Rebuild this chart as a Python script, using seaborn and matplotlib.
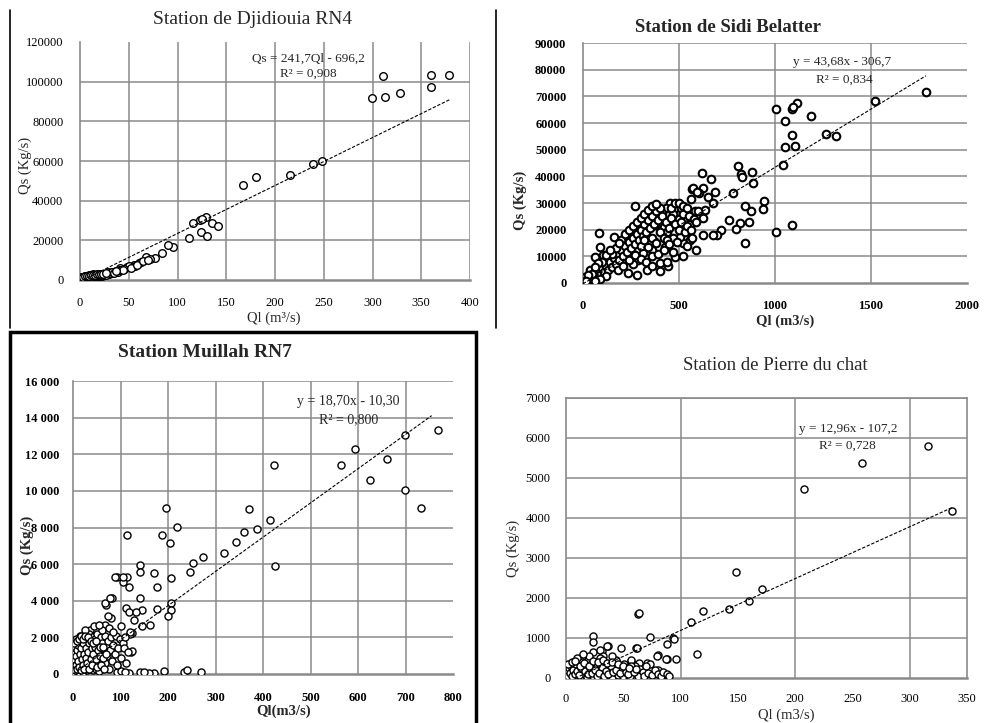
import numpy as np
import pandas as pd
import matplotlib
matplotlib.use("Agg")
import matplotlib.pyplot as plt
import seaborn as sns
from matplotlib.lines import Line2D
from matplotlib.patches import Rectangle

# ---------------- DATA ----------------
# Station de Djidiouia RN4
djid_ql = [311, 360, 378, 360, 299, 313, 328, 248, 239, 215, 181, 167,
           116, 123, 129, 125, 135, 142, 124, 130, 112, 95, 90, 84, 77, 68, 72, 61, 63,
           55, 56, 48, 50, 41, 45, 52, 58, 65, 70,
           0.5, 1, 1, 1.5, 2, 2, 3, 3, 4, 4, 5, 5, 6, 6, 7, 7, 8, 8, 9, 10, 10, 11, 12, 12,
           13, 14, 15, 15, 16, 17, 18, 18, 19, 20, 20, 21, 22, 23, 24, 25, 25, 26, 27, 28,
           29, 30, 31, 32, 33, 34, 35, 36, 37, 38, 39, 40, 42, 44,
           1, 2, 3, 4, 5, 6, 2, 3, 4, 6, 8, 9, 11, 13,
           0.3, 0.8, 1.2, 1.8, 2.2, 2.8, 3.3, 3.8, 4.5, 5.5, 6.5, 7.5, 8.5, 9.5, 10.5, 11.5, 12.5,
           13.5, 14.5, 15.5, 16.5, 17.5, 18.5, 19.5, 21.5, 23.5, 26.5, 28.5, 30.5, 32.5, 34.5, 36.5,
           1, 3, 5, 7, 9, 11, 13, 15, 17, 19, 22, 24, 27]
djid_qs = [103000, 103500, 103500, 97500, 92000, 92500, 94500, 60000, 58500, 53000, 52000, 48000,
           28500, 30000, 32000, 31000, 28500, 27000, 24000, 22000, 21000, 16500, 17500, 13500, 11000,
           11500, 10500, 8500, 9000, 7500, 7000, 6500, 7000, 6000, 5500, 6000, 7500, 9500, 10000,
           50, 100, 300, 200, 150, 500, 300, 700, 400, 900, 500, 1100, 600, 1200, 700, 1300, 800,
           1500, 1000, 900, 1700, 1200, 1100, 1900, 1400, 1500, 1300, 2100, 1700, 1900, 1600, 2300,
           2000, 1800, 2600, 2200, 2400, 2200, 2700, 2500, 3100, 2800, 3000, 3300, 3100, 3000, 3600,
           3300, 3800, 3500, 4200, 3800, 4300, 4500, 4200, 4800, 5000, 5200,
           600, 800, 1000, 1400, 1800, 2000, 1200, 1500, 1700, 1500, 2000, 2300, 2600, 3000,
           800, 600, 1000, 700, 1200, 900, 1100, 1400, 1000, 1300, 1600, 1100, 1800, 1300, 1500,
           2000, 1600, 1800, 2200, 1900, 2100, 2500, 2300, 2700, 2500, 2900, 2600, 3800, 3400, 4000,
           3600, 4600,
           1500, 1600, 1900, 1900, 2200, 2400, 2400, 2600, 2800, 3000, 3200, 3200, 3600]
djid_fit = (241.7, -696.2)
djid_fit_x = [2.9, 380]

# Station de Sidi Belatter
sidi_ql = [1786, 1521, 1266, 1318, 1187, 1115, 1089, 1095, 1005, 1052, 1089, 1052, 1104, 1042, 1089,
           1005, 943, 937, 880, 885, 875, 807, 823, 828, 781, 844, 818, 865, 797, 844, 760, 719, 698,
           677, 688, 667, 651, 677, 620, 625, 604, 568, 562, 625, 625, 589, 557, 271, 83, 161,
           573, 594, 453, 432, 479, 510, 583, 635, 557, 500, 470, 359, 411, 375, 323, 271, 250, 219,
           177, 130, 89, 104, 62, 78, 36, 10, 5, 167, 234, 281, 333, 401, 443, 479, 469, 521, 505,
           427, 359, 312, 286, 203, 260,
           20, 30, 40, 50, 60, 70, 80, 90, 100, 110, 120, 130, 140, 150, 160, 170, 180, 190, 200,
           210, 220, 230, 240, 250, 260, 270, 280, 290, 300, 310, 320, 330, 340, 350, 360, 370, 380,
           390, 400, 410, 420, 430, 440, 450, 460, 470, 480, 490, 500, 510, 520, 530, 540, 550, 460,
           480, 500, 520, 540, 300, 320, 340, 360, 380, 400, 420, 440, 200, 220, 240, 260, 280, 300,
           320, 340, 360, 380, 150, 170, 190, 120, 140, 100, 80, 60, 45, 25, 15, 180, 210, 240, 270,
           300, 330, 360, 390, 420, 450, 120, 90, 60, 400, 360, 440, 520, 540, 560, 580, 600, 590, 570]
sidi_qs = [71600, 68200, 55900, 55200, 62600, 67500, 65200, 66000, 65200, 60750, 55500, 51000, 51400,
           44250, 21750, 19100, 30750, 27750, 41600, 37500, 27000, 43900, 40900, 39700, 33750, 28900,
           22500, 22900, 20250, 15000, 23600, 19900, 18000, 18000, 34100, 38900, 32250, 30000, 41250,
           35600, 33750, 35250, 31500, 24400, 18000, 12400, 16100, 28900, 18750, 17250,
           35600, 34000, 30000, 28100, 28100, 28100, 27000, 27400, 22000, 24000, 26000, 24750, 26250,
           21750, 21000, 17250, 17250, 13500, 12375, 9750, 13500, 10500, 9750, 6000, 4900, 2250, 500,
           6000, 3750, 3000, 4875, 7500, 6375, 9750, 11625, 15000, 17250, 13500, 12375, 11250, 8625,
           8625, 7000,
           1500, 1000, 2500, 1800, 3500, 2500, 4500, 3000, 5500, 4000, 6500, 5000, 8000, 6000, 9500,
           7000, 11000, 8500, 12500, 10000, 14000, 11500, 15500, 13000, 17000, 14500, 18500, 16000,
           20000, 17500, 22000, 19000, 23500, 20500, 25000, 22000, 27000, 23500, 28000, 25000, 21000,
           23000, 19000, 20500, 24500, 17000, 22000, 15500, 20000, 23000, 26000, 19000, 21500, 25000,
           28000, 30000, 30000, 29000, 28000, 14000, 16000, 13500, 17000, 15000, 19000, 17000, 16000,
           16000, 18500, 20000, 21500, 23000, 24500, 26000, 27500, 29000, 29500, 11000, 13000, 15000,
           10500, 12500, 8000, 7500, 6000, 3500, 3000, 800, 5000, 6500, 8500, 10500, 9000, 8000,
           10000, 11000, 12500, 14500, 2500, 1500, 900, 4500, 6500, 8000, 10000, 14000, 20000, 24000,
           27000, 23000, 17000]
sidi_fit = (43.68, -306.7)
sidi_fit_x = [0, 1786]

# Station Muillah RN7
muil_ql = [768, 699, 594, 662, 564, 424, 626, 699, 733, 371, 195, 414, 387, 218, 360, 114, 188, 204,
           344, 317, 274, 253, 247, 426, 142, 142, 170, 92, 114, 206, 105, 117, 177, 82, 142, 70, 206,
           206, 177, 146, 112, 117, 133, 199, 163, 146, 128, 80, 36, 124, 120, 122, 67, 67, 78, 74,
           89, 106, 100, 121, 124,
           92, 117, 141, 170, 191, 233, 240, 270, 100, 110, 160, 150,
           2, 3, 5, 5, 7, 8, 10, 10, 12, 12, 14, 15, 16, 18, 18, 20, 20, 22, 24, 25, 26, 28, 30, 30,
           32, 33, 35, 36, 38, 40, 40, 42, 44, 45, 47, 48, 50, 50, 52, 54, 55, 57, 58, 60, 62, 63,
           65, 67, 68, 70, 72, 74, 75, 78, 80, 82, 85, 88, 90, 92, 95, 98, 100, 105, 108, 110, 112,
           115, 8, 15, 25, 60, 45, 55, 75, 85,
           1, 2, 3, 4, 4, 6, 6, 8, 9, 11, 11, 13, 14, 16, 17, 19, 21, 21, 23, 24, 27, 28, 29, 31, 34,
           34, 37, 39, 41, 43, 46, 49, 51, 53, 56, 59, 61, 64, 66, 69,
           3, 6, 9, 13, 17, 22, 26, 31, 37, 43, 49, 56, 63]
muil_qs = [13310, 13030, 12280, 11720, 11440, 11440, 10590, 10040, 9050, 8990, 9080, 8410, 7920,
           8010, 7740, 7590, 7590, 7140, 7230, 6630, 6410, 6050, 5590, 5920, 5960, 5590, 5500, 5320,
           5320, 5230, 5010, 4770, 4770, 4170, 4170, 3760, 3890, 3500, 3540, 3500, 3600, 3410, 3360,
           3140, 2690, 2600, 2960, 3050, 2410, 2230, 2200, 1180, 2690, 3860, 4140, 3140, 5320, 5320,
           2600, 2270, 1230,
           100, 80, 120, 60, 150, 90, 200, 100, 150, 100, 80, 100,
           100, 300, 50, 600, 200, 900, 400, 1200, 100, 700, 1500, 300, 1000, 500, 1800, 100, 1300,
           800, 2000, 300, 1500, 1000, 200, 1800, 600, 2200, 1200, 400, 1600, 900, 2000, 200, 1400,
           700, 1900, 300, 1100, 2200, 600, 1600, 150, 1300, 2000, 800, 1700, 400, 1200, 2100, 600,
           1500, 1000, 1800, 300, 1300, 2000, 700, 1600, 1100, 2100, 500, 1400, 1900, 900, 1700, 1400,
           2000, 600, 1200, 1700, 2100, 2400, 2400, 2600, 2700, 2500, 2300,
           400, 800, 1100, 200, 1500, 500, 1000, 1300, 250, 700, 1600, 400, 1100, 1400, 200, 800,
           500, 1700, 1100, 300, 900, 1400, 600, 1200, 300, 1700, 800, 1400, 500, 1100, 1500, 800,
           400, 1300, 1000, 500, 1400, 900, 300, 1100,
           1700, 1900, 1800, 1900, 2100, 1900, 2100, 2000, 1800, 1700, 1800, 1500, 1500]
muil_fit = (18.70, -10.30)
muil_fit_x = [0, 755]

# Station de Pierre du chat
pier_ql = [316, 258, 208, 337, 148, 171, 160, 142, 120, 109, 63, 93, 88, 73, 114, 96, 88, 80, 71, 61,
           48, 37, 24, 24, 31, 24, 57, 44, 6,
           36, 62, 94, 79, 87, 64, 30, 32, 16, 8, 57, 64, 73, 80, 89,
           1, 2, 3, 4, 5, 6, 7, 8, 9, 10, 11, 12, 13, 14, 15, 16, 17, 18, 19, 20, 21, 22, 23, 24, 25,
           26, 27, 28, 29, 30, 31, 32, 33, 34, 35, 36, 37, 38, 39, 40, 42, 43, 45, 46, 48, 50, 51, 53,
           55, 56, 58, 60, 62, 63, 65, 67, 68, 70, 72, 75, 78, 80, 83, 85, 88, 90, 10, 20, 15, 30, 40,
           0.5, 1.5, 2.5, 3.5, 4.5, 5.5, 6.5, 7.5, 8.5, 9.5, 11, 13, 15, 17, 19, 21, 23, 25, 27, 29,
           31, 33, 35, 37, 39, 41, 44, 47, 49, 52, 54, 57, 59, 61,
           2, 5, 8, 12, 16, 20, 24, 28, 32, 36, 40, 45, 50, 55]
pier_qs = [5790, 5375, 4725, 4180, 2650, 2230, 1930, 1730, 1670, 1400, 1610, 1000, 850, 1030, 600, 475,
           475, 580, 375, 760, 750, 810, 1040, 890, 665, 650, 415, 450, 375,
           810, 750, 975, 540, 475, 1625, 710, 555, 525, 410, 455, 375, 360, 210, 60,
           20, 100, 50, 200, 10, 150, 300, 80, 250, 30, 350, 150, 60, 400, 200, 100, 300, 30, 450, 180,
           90, 350, 250, 50, 400, 150, 300, 80, 200, 350, 40, 250, 150, 300, 60, 200, 350, 100, 250,
           30, 300, 150, 80, 250, 200, 50, 350, 120, 250, 60, 180, 300, 100, 40, 220, 150, 60, 300,
           120, 80, 200, 100, 40, 150, 100, 50, 500, 550, 600, 500, 550,
           150, 60, 250, 120, 300, 50, 200, 100, 350, 180, 80, 250, 320, 180, 90, 260, 130, 210, 40,
           120, 280, 60, 180, 100, 300, 150, 200, 120, 280, 160, 100, 300, 140, 220,
           350, 400, 420, 300, 380, 300, 420, 400, 450, 380, 400, 350, 300, 250]
pier_fit = (12.96, -107.2)
pier_fit_x = [8, 337]

# ---------------- STYLE ----------------
sns.set_theme(style="white")
plt.rcParams['font.family'] = ['Liberation Serif', 'DejaVu Serif']
plt.rcParams['mathtext.fontset'] = 'stix'

W, H = 986, 723
fig = plt.figure(figsize=(W / 100, H / 100), dpi=100)
GRID = '#8a8a8a'


def ax_rect(l, r, t, b):
    return [l / W, 1 - b / H, (r - l) / W, (b - t) / H]


def panel(rect, ql, qs, fit, fit_x, xlim, ylim, xticks, yticks, xgrid, ygrid,
          ylabels, tick_bold, s, lw, xpad, ypad, frame):
    ax = fig.add_axes(rect)
    df = pd.DataFrame({'Ql': ql, 'Qs': qs})
    sns.scatterplot(data=df, x='Ql', y='Qs', ax=ax, marker='o', s=s, facecolor='white',
                    edgecolor='black', linewidth=lw, zorder=3, legend=False)
    fx = np.array(fit_x, dtype=float)
    ax.plot(fx, fit[0] * fx + fit[1], color='black', lw=0.8, ls=(0, (3, 1.5)), zorder=4)
    ax.set_xlim(*xlim)
    ax.set_ylim(*ylim)
    ax.set_xticks(xticks)
    ax.set_yticks(yticks)
    ax.set_yticklabels(ylabels)
    for g in xgrid:
        ax.axvline(g, color=GRID, lw=1.1, zorder=1)
    for g in ygrid:
        ax.axhline(g, color=GRID, lw=1.1, zorder=1)
    for side in ['top', 'right', 'left', 'bottom']:
        ax.spines[side].set_visible(side in frame)
        ax.spines[side].set_color(GRID)
        ax.spines[side].set_linewidth(1.2)
    ax.spines['bottom'].set_linewidth(1.8)
    ax.tick_params(length=0, labelsize=9, colors='black')
    ax.tick_params(axis='x', pad=xpad)
    ax.tick_params(axis='y', pad=ypad)
    fw = 'bold' if tick_bold else 'normal'
    for lab in ax.get_xticklabels() + ax.get_yticklabels():
        lab.set_fontweight(fw)
    ax.set_xlabel('')
    ax.set_ylabel('')
    ax.set_facecolor('white')
    return ax


def ftext(px, py, s, **kw):
    fig.text(px / W, 1 - py / H, s, ha='center', va='center', **kw)


# Panel 1: Djidiouia
ax1 = panel(ax_rect(80, 470, 42, 280), djid_ql, djid_qs, djid_fit, djid_fit_x,
            (0, 400), (0, 120000), list(range(0, 401, 50)), list(range(0, 120001, 20000)),
            list(range(50, 401, 50)), list(range(20000, 100001, 20000)),
            [str(v) for v in range(0, 120001, 20000)], False, 30, 1.0, 12, 12,
            ['left', 'bottom'])
ax1.text(176, 111500, 'Qs = 241,7Ql - 696,2', fontsize=9.5, ha='left', va='center')
ax1.text(205, 104000, 'R² = 0,908', fontsize=9.5, ha='left', va='center')
ftext(253, 20, 'Station de Djidiouia RN4', fontsize=14)
ftext(25, 165, 'Qs (Kg/s)', fontsize=10.5, rotation=90)
ftext(274, 318, 'Ql (m³/s)', fontsize=10.5)

# Panel 2: Sidi Belatter
ax2 = panel(ax_rect(583, 967, 43, 283), sidi_ql, sidi_qs, sidi_fit, sidi_fit_x,
            (0, 2000), (0, 90000), [0, 500, 1000, 1500, 2000], list(range(0, 90001, 10000)),
            [500, 1000, 1500], list(range(10000, 90001, 10000)),
            [str(v) for v in range(0, 90001, 10000)], True, 30, 1.5, 12, 12,
            ['left', 'bottom'])
ax2.text(1349, 82900, 'y = 43,68x - 306,7', fontsize=9.5, ha='center', va='center')
ax2.text(1360, 76100, 'R² = 0,834', fontsize=9.5, ha='center', va='center')
ftext(728, 27, 'Station de Sidi Belatter', fontsize=13.5, fontweight='bold')
ftext(520, 200, 'Qs (Kg/s)', fontsize=10.5, rotation=90, fontweight='bold')
ftext(785, 321, 'Ql (m3/s)', fontsize=10.5, fontweight='bold')

# Panel 3: Muillah
ax3 = panel(ax_rect(73, 453, 381, 674), muil_ql, muil_qs, muil_fit, muil_fit_x,
            (0, 800), (0, 16000), list(range(0, 801, 100)), list(range(0, 16001, 2000)),
            list(range(100, 701, 100)), list(range(2000, 16001, 2000)),
            ['0'] + [f"{v // 1000} 000" for v in range(2000, 16001, 2000)], True, 26, 1.0, 13, 10,
            ['left', 'bottom'])
ax3.text(580, 14900, 'y = 18,70x - 10,30', fontsize=10, ha='center', va='center')
ax3.text(580, 13900, 'R² = 0,800', fontsize=10, ha='center', va='center')
ftext(205, 352, 'Station Muillah RN7', fontsize=14, fontweight='bold')
ftext(27, 545, 'Qs (Kg/s)', fontsize=10.5, rotation=90, fontweight='bold')
ftext(284, 711, 'Ql(m3/s)', fontsize=10.5, fontweight='bold')

# Panel 4: Pierre du chat
ax4 = panel(ax_rect(566, 967, 398, 678), pier_ql, pier_qs, pier_fit, pier_fit_x,
            (0, 350), (0, 7000), list(range(0, 351, 50)), list(range(0, 7001, 1000)),
            [100, 200, 300], list(range(1000, 7001, 1000)),
            [str(v) for v in range(0, 7001, 1000)], False, 26, 1.0, 11, 11,
            ['left', 'bottom', 'top', 'right'])
ax4.text(246, 6230, 'y = 12,96x - 107,2', fontsize=9.5, ha='center', va='center')
ax4.text(246, 5800, 'R² = 0,728', fontsize=9.5, ha='center', va='center')
ftext(775, 365, 'Station de Pierre du chat', fontsize=13.5)
ftext(513, 548, 'Qs (Kg/s)', fontsize=10.5, rotation=90)
ftext(786, 715, 'Ql (m3/s)', fontsize=10.5)

# Panel separators / frames
fig.add_artist(Line2D([10 / W, 10 / W], [1 - 10 / H, 1 - 328 / H], color='black', lw=1.2))
fig.add_artist(Line2D([496 / W, 496 / W], [1 - 10 / H, 1 - 328 / H], color='black', lw=1.2))
fig.add_artist(Rectangle((10 / W, -0.01), (476 - 10) / W, (1 - 332 / H) + 0.01,
                         transform=fig.transFigure, fill=False, edgecolor='black', lw=2.5))

fig.savefig('out.png', dpi=100, facecolor='white')
